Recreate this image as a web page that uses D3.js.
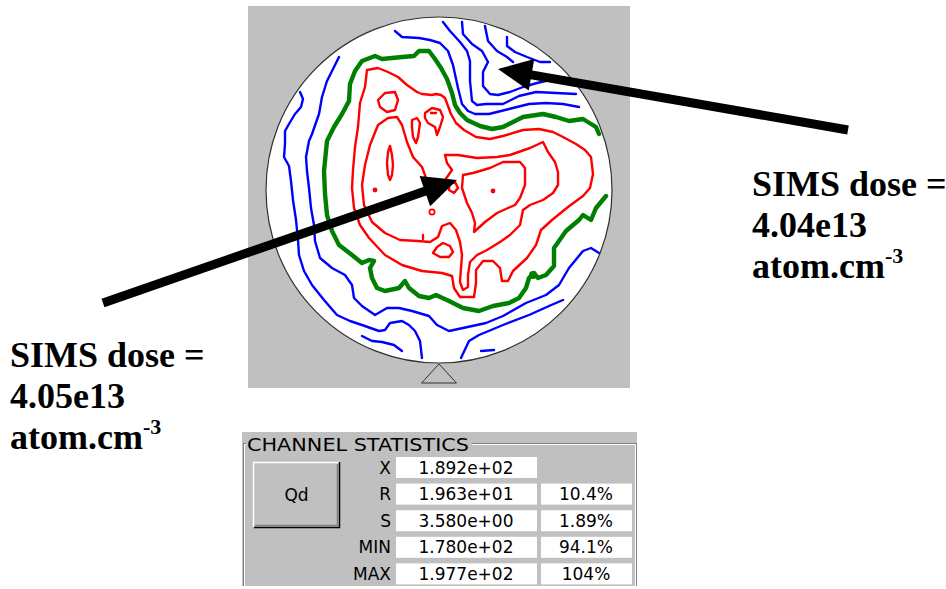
<!DOCTYPE html>
<html>
<head>
<meta charset="utf-8">
<script src="https://cdn.jsdelivr.net/npm/d3@7"></script>
<style>
  body { margin: 0; background: #fff; }
  svg { display: block; }
</style>
</head>
<body>
<svg id="chart" width="946" height="589"></svg>
<script>
// wafer map, grid units, centre = 0,0, edge of wafer at 173
var WAFER_RADIUS = 173;

// low level contours (blue), open lines ending at the edge
var blueContours = [
  [[-139,98],[-136,91],[-138,83],[-144,76],[-150,66],[-154,59],[-154,46],[-155,33],[-150,24],[-148,9],[-146,-10],[-143,-30],[-141,-50],[-140,-65],[-135,-81],[-127,-95],[-115,-110],[-102,-125],[-89,-131],[-77,-135],[-60,-141],[-54,-140],[-49,-133],[-37,-131],[-30,-135],[-24,-141],[-19,-151],[-17,-168]],
  [[-100,133],[-105,123],[-112,109],[-117,93],[-120,76],[-127,56],[-130,49],[-133,33],[-132,19],[-130,2],[-128,-18],[-125,-35],[-124,-51],[-119,-68],[-107,-78],[-94,-85],[-87,-95],[-85,-108],[-77,-116],[-64,-125],[-52,-118],[-40,-118],[-27,-121],[-10,-126],[-2,-135],[10,-141],[24,-138],[47,-133],[64,-126],[87,-113],[107,-105],[120,-95],[130,-78],[144,-61],[152,-58],[160,-63]],
  [[-77,-146],[-67,-151],[-57,-152],[-45,-155],[-37,-161]],
  [[22,-168],[30,-151],[40,-145],[64,-135],[90,-125],[110,-116],[124,-110]],
  [[42,-161],[55,-160]],
  [[-44,159],[-37,153],[-20,152],[-9,150],[1,147],[9,139],[14,125],[19,102],[23,86],[29,79],[36,76],[50,76],[70,81],[90,86],[107,87],[124,86],[140,83]],
  [[4,168],[11,159],[21,148],[28,139],[31,129],[31,109],[33,89],[38,85],[47,86],[64,86],[80,94],[97,98],[117,97],[137,96]],
  [[23,168],[24,156],[33,146],[43,139],[49,128],[44,118],[44,104],[51,96],[59,95],[71,98],[84,103],[98,107],[111,110],[124,110]],
  [[46,164],[49,149],[58,139],[68,133],[74,128]],
  [[68,153],[68,144],[76,138],[88,133],[101,128],[111,128]]
];

// mean level contour (green)
var greenContours = [
  [[167,-6],[157,-18],[152,-30],[144,-25],[140,-30],[127,-41],[115,-58],[115,-76],[107,-85],[99,-88],[95,-83],[90,-88],[87,-98],[80,-108],[70,-113],[54,-116],[40,-121],[24,-118],[10,-111],[-3,-105],[-10,-108],[-20,-106],[-30,-98],[-34,-91],[-40,-98],[-54,-101],[-62,-98],[-67,-88],[-69,-78],[-65,-71],[-70,-70],[-77,-73],[-87,-65],[-100,-55],[-107,-41],[-112,-25],[-114,-4],[-115,19],[-112,49],[-105,63],[-97,76],[-90,89],[-89,106],[-84,119],[-77,129],[-64,134],[-57,131],[-37,133],[-25,134],[-20,139],[-10,139],[-4,131],[2,122],[8,111],[13,97],[16,85],[21,77],[28,70],[41,64],[53,61],[64,63],[84,73],[104,76],[117,73],[130,69],[144,71],[157,63],[160,56]]
];
var greenBlobs = [[94,-85]];

// high level contours (red), closed
var redContours = [
  [[-72,120],[-61,122],[-51,118],[-41,113],[-32,105],[-22,98],[-17,96],[-7,95],[-3,96],[2,95],[6,92],[9,84],[12,76],[17,67],[25,60],[37,53],[51,51],[64,54],[84,60],[100,61],[114,58],[124,53],[137,46],[146,40],[152,33],[154,16],[151,2],[144,-6],[129,-17],[113,-30],[102,-40],[97,-55],[88,-68],[74,-81],[69,-91],[63,-91],[61,-78],[54,-71],[44,-71],[37,-80],[37,-93],[35,-107],[21,-107],[15,-98],[13,-86],[3,-83],[-17,-81],[-37,-75],[-54,-65],[-70,-48],[-79,-35],[-85,-18],[-87,2],[-86,20],[-84,43],[-81,63],[-79,87],[-74,103]],
  [[6,35],[19,35],[38,32],[58,33],[71,35],[91,42],[104,48],[109,38],[116,28],[119,18],[119,5],[114,-3],[104,-10],[91,-15],[84,-20],[81,-35],[71,-45],[61,-52],[48,-60],[38,-65],[31,-72],[29,-85],[29,-97],[24,-100],[21,-92],[22,-78],[23,-65],[21,-52],[17,-40],[11,-33],[3,-36],[-1,-47],[-9,-52],[-21,-51],[-39,-50],[-54,-43],[-67,-32],[-75,-15],[-77,5],[-74,25],[-69,45],[-61,65],[-51,72],[-42,73],[-37,65],[-32,48],[-26,33],[-17,23],[-13,12],[-7,2],[6,10],[13,20],[8,27]],
  [[24,15],[34,17],[51,22],[64,28],[81,28],[86,22],[86,5],[81,-8],[76,-15],[69,-18],[58,-23],[46,-32],[35,-42],[36,-33],[33,-23],[28,-13],[23,2]],
  [[-61,90],[-54,97],[-44,98],[-41,90],[-44,80],[-52,78],[-59,83]],
  [[-27,70],[-22,72],[-19,67],[-21,53],[-23,47],[-26,53],[-27,63]],
  [[-14,77],[-7,82],[1,80],[4,73],[1,63],[-2,55],[-4,63],[-11,67],[-14,72]],
  [[-49,44],[-47,35],[-46,25],[-47,15],[-49,10],[-51,15],[-52,27],[-51,38]],
  [[-6,-63],[-2,-57],[4,-53],[11,-56],[14,-62],[10,-67],[1,-67]],
  [[10,6],[16,8],[19,2],[15,-3],[10,0]]
];
var redDots = [[54,-1],[-64,0]];
var redRings = [[-7,-22]];
var redTicks = [
  [[-16,-45],[-16,-49]],
  [[-8,77],[-3,77]]
];

// SIMS measurement sites the arrows point at
var simsSites = [[18,10],[59,121]];
var simsDoses = ["4.05e13","4.04e13"];

// channel statistics
var statNames = ["X","R","S","MIN","MAX"];
var statValues = ["1.892e+02","1.963e+01","3.580e+00","1.780e+02","1.977e+02"];
var statPercents = ["","10.4%","1.89%","94.1%","104%"];

var svg = d3.select("#chart");

var x = d3.scaleLinear().domain([-WAFER_RADIUS, WAFER_RADIUS]).range([266, 612]);
var y = d3.scaleLinear().domain([-WAFER_RADIUS, WAFER_RADIUS]).range([363, 17]);
var rPx = x(WAFER_RADIUS) - x(0);

var openLine = d3.line().x(function(d){ return x(d[0]); }).y(function(d){ return y(d[1]); });
var closedLine = d3.line().x(function(d){ return x(d[0]); }).y(function(d){ return y(d[1]); }).curve(d3.curveLinearClosed);

// map panel
svg.append("rect").attr("x", 248).attr("y", 6).attr("width", 382).attr("height", 382).attr("fill", "#c0c0c0");

svg.append("clipPath").attr("id", "waferClip")
  .append("circle").attr("cx", x(0)).attr("cy", y(0)).attr("r", rPx);

svg.append("circle").attr("cx", x(0)).attr("cy", y(0)).attr("r", rPx).attr("fill", "#fff");

var map = svg.append("g").attr("clip-path", "url(#waferClip)")
  .attr("fill", "none").attr("stroke-linejoin", "round").attr("stroke-linecap", "round");

map.selectAll("path.blue").data(blueContours).enter().append("path")
  .attr("class", "blue").attr("d", openLine)
  .attr("stroke", "#0000ff").attr("stroke-width", 2.4);

map.selectAll("path.green").data(greenContours).enter().append("path")
  .attr("class", "green").attr("d", openLine)
  .attr("stroke", "#008000").attr("stroke-width", 4.4);
map.selectAll("circle.gblob").data(greenBlobs).enter().append("circle")
  .attr("cx", function(d){ return x(d[0]); }).attr("cy", function(d){ return y(d[1]); })
  .attr("r", 4).attr("fill", "#008000");

map.selectAll("path.red").data(redContours).enter().append("path")
  .attr("class", "red").attr("d", closedLine)
  .attr("stroke", "#ff0000").attr("stroke-width", 2.4);
map.selectAll("path.redtick").data(redTicks).enter().append("path")
  .attr("d", openLine).attr("stroke", "#ff0000").attr("stroke-width", 2.4);
map.selectAll("circle.rdot").data(redDots).enter().append("circle")
  .attr("cx", function(d){ return x(d[0]); }).attr("cy", function(d){ return y(d[1]); })
  .attr("r", 2.4).attr("fill", "#ff0000");
map.selectAll("circle.rring").data(redRings).enter().append("circle")
  .attr("cx", function(d){ return x(d[0]); }).attr("cy", function(d){ return y(d[1]); })
  .attr("r", 2.6).attr("stroke", "#ff0000").attr("stroke-width", 1.8);

// wafer edge and notch
svg.append("circle").attr("cx", x(0)).attr("cy", y(0)).attr("r", rPx)
  .attr("fill", "none").attr("stroke", "#303030").attr("stroke-width", 1.2);
svg.append("path")
  .attr("d", "M" + (x(0) - 17.5) + "," + 383 + "L" + x(0) + "," + (y(-WAFER_RADIUS) + 1) + "L" + (x(0) + 17.5) + "," + 383 + "Z")
  .attr("fill", "none").attr("stroke", "#303030").attr("stroke-width", 1);

// arrows + labels
var labelTails = [[103, 303], [848, 130]];
var labelBlocks = [[10, 367], [752, 196]];

function drawArrow(tail, site) {
  var tip = [x(site[0]), y(site[1])];
  var dx = tip[0] - tail[0], dy = tip[1] - tail[1];
  var len = Math.sqrt(dx * dx + dy * dy), ux = dx / len, uy = dy / len;
  var headLen = 34, headHalf = 16;
  var base = [tip[0] - ux * headLen, tip[1] - uy * headLen];
  svg.append("line")
    .attr("x1", tail[0]).attr("y1", tail[1])
    .attr("x2", base[0] + ux * 3).attr("y2", base[1] + uy * 3)
    .attr("stroke", "#000").attr("stroke-width", 9);
  svg.append("path")
    .attr("d", "M" + tip[0] + "," + tip[1] +
      "L" + (base[0] - uy * headHalf) + "," + (base[1] + ux * headHalf) +
      "L" + (base[0] + uy * headHalf) + "," + (base[1] - ux * headHalf) + "Z")
    .attr("fill", "#000");
}

simsSites.forEach(function(site, i) {
  drawArrow(labelTails[i], site);
  var t = svg.append("text")
    .attr("font-family", "'Liberation Serif', 'Times New Roman', serif")
    .attr("font-weight", "bold").attr("font-size", 36).attr("fill", "#000");
  var bx = labelBlocks[i][0], by = labelBlocks[i][1];
  t.append("tspan").attr("x", bx).attr("y", by).text("SIMS dose =");
  t.append("tspan").attr("x", bx).attr("y", by + 41).text(simsDoses[i]);
  t.append("tspan").attr("x", bx).attr("y", by + 82).text("atom.cm");
  t.append("tspan").attr("font-size", 22).attr("dy", -15).text("-3");
});

// channel statistics box
var stats = svg.append("g").attr("font-family", "'DejaVu Sans', Verdana, sans-serif").attr("font-size", 17);
stats.append("rect").attr("x", 242).attr("y", 432).attr("width", 395).attr("height", 154).attr("fill", "#c0c0c0");
stats.append("path").attr("d", "M243.5,586V443.5H246M472,443.5H636.5V586")
  .attr("fill", "none").attr("stroke", "#808080");
stats.append("path").attr("d", "M244.5,586V444.5H246M472,444.5H635.5V586")
  .attr("fill", "none").attr("stroke", "#fff");
stats.append("text").attr("x", 247).attr("y", 451)
  .attr("textLength", 222).attr("lengthAdjust", "spacingAndGlyphs")
  .attr("fill", "#000").text("CHANNEL STATISTICS");

// Qd button
var btn = stats.append("g");
btn.append("rect").attr("x", 253).attr("y", 462).attr("width", 87).attr("height", 66).attr("fill", "#c0c0c0");
btn.append("path").attr("d", "M253.5,527V462.5H339").attr("fill", "none").attr("stroke", "#fff").attr("stroke-width", 1.5);
btn.append("path").attr("d", "M254,527.5H339.5V462").attr("fill", "none").attr("stroke", "#000").attr("stroke-width", 1.5);
btn.append("path").attr("d", "M255,525.5H337.5V464").attr("fill", "none").attr("stroke", "#808080").attr("stroke-width", 1.5);
btn.append("text").attr("x", 296.5).attr("y", 501).attr("text-anchor", "middle").attr("fill", "#000").text("Qd");

var rowY = d3.scaleBand().domain(statNames).range([457, 584.4]).paddingInner(0.21);

var rows = stats.selectAll("g.row").data(statNames).enter().append("g").attr("class", "row")
  .attr("transform", function(d){ return "translate(0," + rowY(d) + ")"; });
rows.append("text").attr("x", 391).attr("y", rowY.bandwidth() / 2 + 6)
  .attr("text-anchor", "end").attr("fill", "#000").text(function(d){ return d; });
rows.append("rect").attr("x", 396).attr("width", 141).attr("height", rowY.bandwidth()).attr("fill", "#fff");
rows.append("text").attr("x", 466).attr("y", rowY.bandwidth() / 2 + 6)
  .attr("text-anchor", "middle").attr("fill", "#000").text(function(d, i){ return statValues[i]; });
rows.filter(function(d, i){ return statPercents[i] !== ""; })
  .append("rect").attr("x", 541).attr("width", 91).attr("height", rowY.bandwidth()).attr("fill", "#fff");
rows.append("text").attr("x", 586).attr("y", rowY.bandwidth() / 2 + 6)
  .attr("text-anchor", "middle").attr("fill", "#000").text(function(d, i){ return statPercents[i]; });
</script>
</body>
</html>
